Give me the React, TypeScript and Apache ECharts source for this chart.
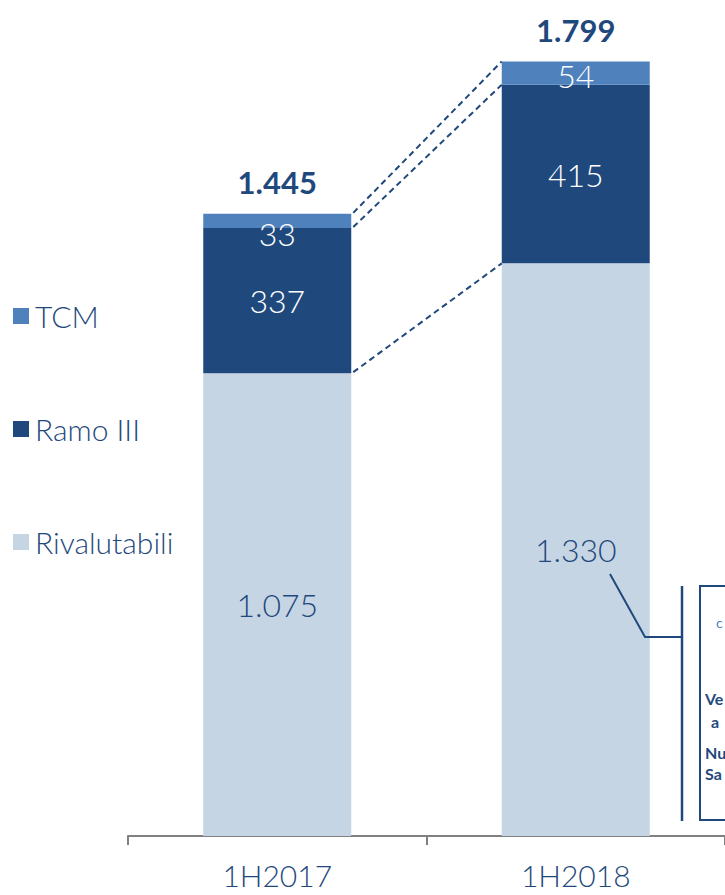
import React, { useEffect, useRef } from "react";
import * as echarts from "echarts";

const categories = ["1H2017", "1H2018"];
const rivalutabili = [1075, 1330];
const ramoIII = [337, 415];
const tcm = [33, 54];
const calloutLines = ["Ve", "a", "Nu", "Sa"];

const DARK = "#1F497D";
const MID = "#4F81BD";
const LIGHT = "#C6D5E4";
const FONT = "Lato, 'Noto Sans', sans-serif";

const fmt = (v: number) => {
  const s = String(Math.round(v));
  return s.replace(/\B(?=(\d{3})+(?!\d))/g, ".");
};

export default function App() {
  const ref = useRef<HTMLDivElement>(null);
  useEffect(() => {
    if (!ref.current) return;
    const chart = echarts.init(ref.current, undefined, { renderer: "svg" });
    const totals = categories.map((_, i) => rivalutabili[i] + ramoIII[i] + tcm[i]);
    const levels = [
      [0, rivalutabili[0], rivalutabili[1]],
      [0, rivalutabili[0] + ramoIII[0], rivalutabili[1] + ramoIII[1]],
      [0, totals[0], totals[1]],
    ];
    const barW = 148;
    chart.setOption({
      animation: false,
      grid: { left: 128, width: 600, top: 61, bottom: 59 },
      legend: {
        orient: "vertical",
        left: 13,
        top: 301,
        padding: 0,
        itemGap: 83,
        itemWidth: 16,
        itemHeight: 16,
        icon: "rect",
        data: ["TCM", "Ramo III", "Rivalutabili"],
        textStyle: { color: DARK, fontSize: 30, fontWeight: 300, fontFamily: FONT, padding: [0, 0, 0, 1] },
      },
      xAxis: {
        type: "category",
        data: categories,
        axisLine: { lineStyle: { color: "#808080", width: 2 } },
        axisTick: { show: true, interval: 0, length: 9, lineStyle: { color: "#808080", width: 2 } },
        axisLabel: { color: DARK, fontSize: 30, fontWeight: 300, fontFamily: FONT, margin: 24 },
      },
      yAxis: { type: "value", min: 0, max: 1800, show: false, splitLine: { show: false } },
      series: [
        {
          name: "Rivalutabili",
          type: "bar",
          stack: "a",
          barWidth: barW,
          data: rivalutabili,
          itemStyle: { color: LIGHT },
          label: {
            show: true,
            position: "inside",
            color: DARK,
            fontSize: 32,
            fontWeight: 300,
            fontFamily: FONT,
            formatter: (p: any) => fmt(p.value),
          },
        },
        {
          name: "Ramo III",
          type: "bar",
          stack: "a",
          barWidth: barW,
          data: ramoIII,
          itemStyle: { color: DARK },
          label: { show: true, position: "inside", color: "#fff", fontSize: 32, fontWeight: 300, fontFamily: FONT },
        },
        {
          name: "TCM",
          type: "bar",
          stack: "a",
          barWidth: barW,
          data: tcm.map((v, i) => ({ value: v, label: { offset: [0, i === 0 ? 13 : 2] } })),
          itemStyle: { color: MID },
          label: { show: true, position: "inside", color: "#fff", fontSize: 32, fontWeight: 300, fontFamily: FONT },
        },
        {
          name: "Totale",
          type: "bar",
          stack: "a",
          barWidth: barW,
          data: totals.map(() => 0),
          itemStyle: { color: "transparent" },
          label: {
            show: true,
            position: "top",
            distance: 16,
            color: DARK,
            fontSize: 31,
            fontWeight: "bold",
            fontFamily: FONT,
            formatter: (p: any) => fmt(totals[p.dataIndex]),
          },
        },
        {
          type: "custom",
          name: "connectors",
          data: levels,
          encode: { x: 0, y: 1 },
          z: 5,
          renderItem: (params: any, api: any) => {
            const a = api.coord([0, api.value(1)]);
            const b = api.coord([1, api.value(2)]);
            return {
              type: "line",
              shape: { x1: a[0] + barW / 2 + 2, y1: a[1] - 1, x2: b[0] - barW / 2, y2: b[1] },
              style: { stroke: DARK, lineWidth: 2, lineDash: [6, 4], fill: null },
            };
          },
        },
      ],
      graphic: [
        {
          type: "polyline",
          z: 100,
          shape: { points: [[610, 574], [645, 637], [682, 637]] },
          style: { stroke: DARK, lineWidth: 2, fill: null },
        },
        {
          type: "line",
          z: 100,
          shape: { x1: 682, y1: 586, x2: 682, y2: 821 },
          style: { stroke: DARK, lineWidth: 2.5 },
        },
        {
          type: "rect",
          z: 100,
          shape: { x: 700, y: 586, width: 80, height: 234 },
          style: { stroke: DARK, lineWidth: 2, fill: "#fff" },
        },
        {
          type: "text",
          z: 101,
          x: 716,
          y: 622,
          style: { text: "c", fill: MID, fontSize: 14, fontFamily: FONT, verticalAlign: "middle" },
        },
        ...calloutLines.map((t, i) => ({
          type: "text",
          z: 101,
          x: i === 1 ? 711 : 705,
          y: [698, 721, 752, 773][i],
          style: {
            text: t,
            fill: DARK,
            fontSize: 16,
            fontWeight: "bold",
            fontFamily: FONT,
            verticalAlign: "middle",
          },
        })),
      ],
    });
    return () => chart.dispose();
  }, []);
  return (
    <div
      ref={ref}
      style={{ position: "fixed", left: 0, top: 0, width: 725, height: 895, background: "#fff" }}
    />
  );
}
